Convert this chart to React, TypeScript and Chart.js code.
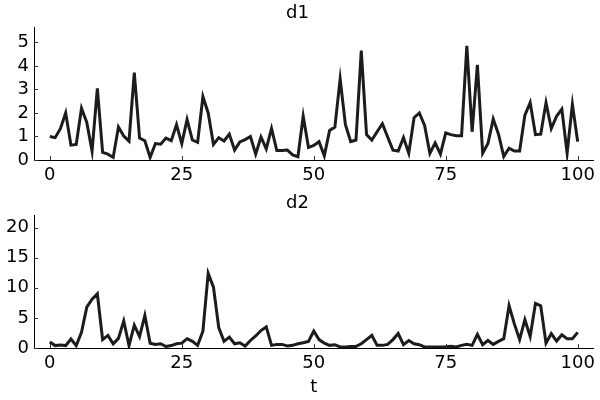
import React, { useEffect, useRef } from "react";
import { Chart, registerables } from "chart.js";

Chart.register(...registerables);

const tValues: number[] = Array.from({ length: 101 }, (_, i) => i);

const d1: number[] = [
  1.0, 0.95, 1.33, 2.0, 0.63, 0.66, 2.2, 1.6, 0.38, 3.05,
  0.32, 0.25, 0.11, 1.4, 1.02, 0.8, 3.72, 0.93, 0.82, 0.11,
  0.7, 0.67, 0.93, 0.82, 1.5, 0.7, 1.72, 0.85, 0.75, 2.7,
  2.0, 0.66, 0.95, 0.81, 1.1, 0.42, 0.77, 0.87, 1.0, 0.25,
  0.98, 0.47, 1.34, 0.4, 0.4, 0.42, 0.22, 0.14, 1.86, 0.53,
  0.62, 0.78, 0.18, 1.26, 1.4, 3.45, 1.5, 0.78, 0.85, 4.65,
  1.08, 0.85, 1.2, 1.54, 0.98, 0.42, 0.38, 0.95, 0.29, 1.8,
  2.0, 1.47, 0.28, 0.73, 0.25, 1.15, 1.08, 1.03, 1.03, 4.85,
  1.2, 4.05, 0.29, 0.7, 1.74, 1.1, 0.15, 0.5, 0.38, 0.38,
  1.91, 2.44, 1.08, 1.1, 2.44, 1.34, 1.86, 2.16, 0.29, 2.37,
  0.78,
];

const d2: number[] = [
  1.0, 0.4, 0.5, 0.4, 1.5, 0.4, 2.6, 6.8, 8.1, 9.0,
  1.4, 2.1, 0.7, 1.6, 4.5, 0.4, 3.8, 1.9, 5.4, 0.8,
  0.6, 0.7, 0.25, 0.4, 0.7, 0.8, 1.55, 1.1, 0.44, 2.8,
  12.4, 10.1, 3.4, 1.1, 1.8, 0.7, 0.87, 0.33, 1.25, 2.0,
  2.9, 3.5, 0.44, 0.6, 0.6, 0.33, 0.44, 0.7, 0.87, 1.1,
  2.8, 1.4, 0.8, 0.44, 0.55, 0.17, 0.17, 0.27, 0.27, 0.7,
  1.4, 2.1, 0.44, 0.44, 0.6, 1.4, 2.4, 0.55, 1.25, 0.7,
  0.55, 0.17, 0.17, 0.17, 0.17, 0.2, 0.27, 0.17, 0.44, 0.6,
  0.44, 2.25, 0.55, 1.25, 0.6, 1.1, 1.55, 7.05, 4.0, 1.4,
  4.7, 1.9, 7.4, 7.0, 0.8, 2.4, 1.15, 2.2, 1.55, 1.55,
  2.6,
];

const xTicks: number[] = [0, 25, 50, 75, 100];
const y1Ticks: number[] = [0, 1, 2, 3, 4, 5];
const y2Ticks: number[] = [0, 5, 10, 15, 20];

const FONT = "'DejaVu Sans', sans-serif";
const LINE_COLOR = "#1c1c1c";

const innerTicks = {
  id: "innerTicks",
  afterDraw(chart: any) {
    const { ctx, chartArea, scales } = chart;
    ctx.save();
    ctx.strokeStyle = "#333";
    ctx.lineWidth = 1;
    const xs = scales.x;
    xs.ticks.forEach((t: any) => {
      const px = Math.round(xs.getPixelForValue(t.value)) + 0.5;
      ctx.beginPath();
      ctx.moveTo(px, chartArea.bottom);
      ctx.lineTo(px, chartArea.bottom - 4);
      ctx.stroke();
    });
    const ys = scales.y;
    ys.ticks.forEach((t: any) => {
      const py = Math.round(ys.getPixelForValue(t.value)) + 0.5;
      ctx.beginPath();
      ctx.moveTo(chartArea.left, py);
      ctx.lineTo(chartArea.left + 4, py);
      ctx.stroke();
    });
    ctx.restore();
  },
};

function makeConfig(
  title: string,
  values: number[],
  yMax: number,
  yTicks: number[],
  xTitle: string | null,
  xHeight: number,
  titlePad: { top: number; bottom: number }
): any {
  return {
    type: "line",
    data: {
      datasets: [
        {
          data: tValues.map((t, i) => ({ x: t, y: values[i] })),
          borderColor: LINE_COLOR,
          borderWidth: 3,
          pointRadius: 0,
          tension: 0,
          fill: false,
        },
      ],
    },
    options: {
      responsive: false,
      animation: false,
      layout: { padding: { left: 0, right: 5, top: 0, bottom: 0 } },
      plugins: {
        legend: { display: false },
        tooltip: { enabled: false },
        title: {
          display: true,
          text: title,
          color: "#000",
          font: { family: FONT, size: 18, weight: "normal" },
          padding: titlePad,
        },
      },
      scales: {
        x: {
          type: "linear",
          min: -3,
          max: 103,
          afterBuildTicks: (s: any) => {
            s.ticks = xTicks.map((v) => ({ value: v }));
          },
          afterFit: (s: any) => {
            s.height = xHeight;
          },
          grid: { display: false, drawTicks: false },
          border: { display: true, color: "#000", width: 1 },
          ticks: {
            color: "#000",
            font: { family: FONT, size: 18 },
            padding: 5,
            maxRotation: 0,
            autoSkip: false,
            callback: (v: any) => String(v),
          },
          title: xTitle
            ? {
                display: true,
                text: xTitle,
                color: "#000",
                font: { family: FONT, size: 18 },
                padding: { top: 0, bottom: 2 },
              }
            : { display: false },
        },
        y: {
          type: "linear",
          min: 0,
          max: yMax,
          afterBuildTicks: (s: any) => {
            s.ticks = yTicks.map((v) => ({ value: v }));
          },
          afterFit: (s: any) => {
            s.width = 34;
          },
          grid: { display: false, drawTicks: false },
          border: { display: true, color: "#000", width: 1 },
          ticks: {
            color: "#000",
            font: { family: FONT, size: 18 },
            padding: 5,
            autoSkip: false,
            callback: (v: any) => String(v),
          },
        },
      },
    },
    plugins: [innerTicks],
  };
}

export default function App() {
  const topRef = useRef<HTMLCanvasElement | null>(null);
  const botRef = useRef<HTMLCanvasElement | null>(null);

  useEffect(() => {
    if (!topRef.current || !botRef.current) return;
    const c1 = new Chart(
      topRef.current,
      makeConfig("d1", d1, 5.63, y1Ticks, null, 28, { top: 3, bottom: 3 })
    );
    const c2 = new Chart(
      botRef.current,
      makeConfig("d2", d2, 22, y2Ticks, "t", 52, { top: 5, bottom: 1 })
    );
    return () => {
      c1.destroy();
      c2.destroy();
    };
  }, []);

  return (
    <div
      style={{
        position: "absolute",
        left: 0,
        top: 0,
        width: 600,
        height: 400,
        background: "#fff",
      }}
    >
      <canvas
        ref={topRef}
        width={600}
        height={188}
        style={{ position: "absolute", left: 0, top: 0, width: 600, height: 188 }}
      />
      <canvas
        ref={botRef}
        width={600}
        height={212}
        style={{ position: "absolute", left: 0, top: 188, width: 600, height: 212 }}
      />
    </div>
  );
}
